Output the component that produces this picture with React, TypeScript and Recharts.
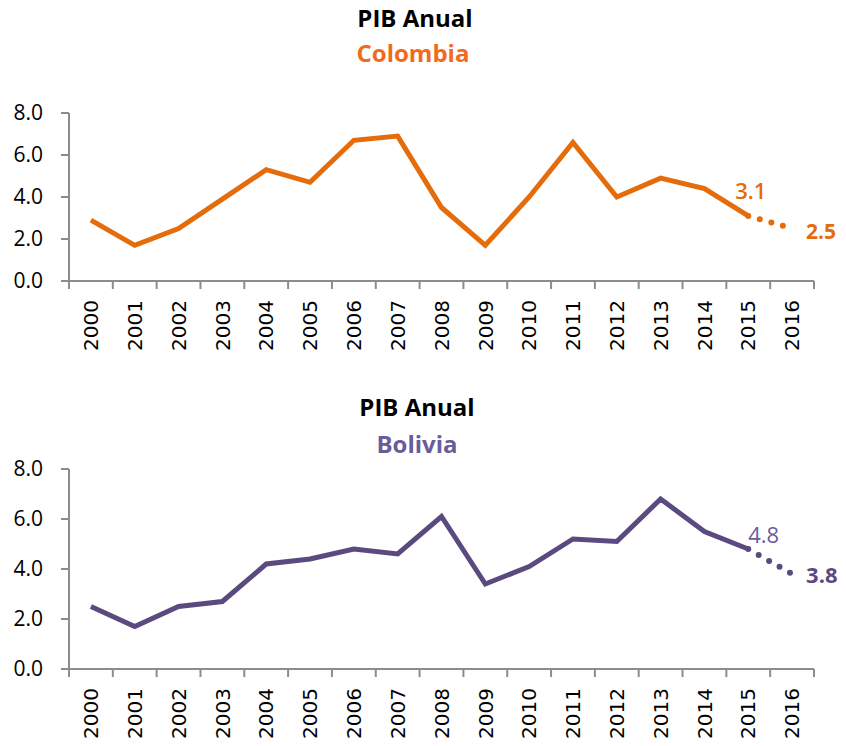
import React from "react";
import { LineChart, Line, XAxis, YAxis } from "recharts";

// Años y valores del PIB (variación %)
const years = ["2000", "2001", "2002", "2003", "2004", "2005", "2006", "2007", "2008", "2009", "2010", "2011", "2012", "2013", "2014", "2015", "2016"];
const colombia = [2.9, 1.7, 2.5, 3.9, 5.3, 4.7, 6.7, 6.9, 3.5, 1.7, 4.0, 6.6, 4.0, 4.9, 4.4, 3.1, null];
const colombiaProj = [null, null, null, null, null, null, null, null, null, null, null, null, null, null, null, 3.1, 2.5];
const bolivia = [2.5, 1.7, 2.5, 2.7, 4.2, 4.4, 4.8, 4.6, 6.1, 3.4, 4.1, 5.2, 5.1, 6.8, 5.5, 4.8, null];
const boliviaProj = [null, null, null, null, null, null, null, null, null, null, null, null, null, null, null, 4.8, 3.8];
const yTicks = [0, 2, 4, 6, 8];

const W = 846;
const AXIS_GRAY = "#8c8c8c";
const LEFT = 69;
const RIGHT = 32;
const BAND = (W - LEFT - RIGHT) / years.length;
const TICK = 8;
const TICK_GAP = 11;

const buildRows = (actual: (number | null)[], proj: (number | null)[]) =>
  years.map((year, i) => ({ year, actual: actual[i], proj: proj[i] }));

// tick del eje X: marcas entre categorías (estilo Excel) y etiqueta rotada
const YearTick = (props: any) => {
  const { x, y, payload, index } = props;
  const axisY = y - TICK - TICK_GAP;
  const last = index === years.length - 1;
  return (
    <g>
      <line x1={x - BAND / 2} x2={x - BAND / 2} y1={axisY} y2={axisY + TICK} stroke={AXIS_GRAY} strokeWidth={2} />
      {last && <line x1={x + BAND / 2} x2={x + BAND / 2} y1={axisY} y2={axisY + TICK} stroke={AXIS_GRAY} strokeWidth={2} />}
      <text
        x={x}
        y={y}
        transform={`rotate(-90 ${x} ${y})`}
        textAnchor="end"
        dy="0.36em"
        fontFamily="DejaVu Sans"
        fontSize={20}
        fill="#000"
      >
        {payload.value}
      </text>
    </g>
  );
};

const pointLabel = (at: number, dx: number, dy: number, color: string, weight: number, size: number) =>
  (props: any) => {
    const { x, y, index, value } = props;
    if (index !== at || value == null) return null;
    return (
      <text x={x + dx} y={y + dy} fill={color} fontFamily="Open Sans" fontWeight={weight} fontSize={size}>
        {Number(value).toFixed(1)}
      </text>
    );
  };

interface PibChartProps {
  top: number;
  height: number;
  marginTop: number;
  axisHeight: number;
  rows: any[];
  lineColor: string;
  actualLabel: (p: any) => any;
  projLabel: (p: any) => any;
}

const PibChart: React.FC<PibChartProps> = ({ top, height, marginTop, axisHeight, rows, lineColor, actualLabel, projLabel }) => (
  <div style={{ position: "absolute", left: 0, top }}>
    <LineChart width={W} height={height} data={rows} margin={{ top: marginTop, right: RIGHT, left: 0, bottom: 0 }}>
      <XAxis
        dataKey="year"
        interval={0}
        height={axisHeight}
        padding={{ left: BAND / 2, right: BAND / 2 }}
        axisLine={{ stroke: AXIS_GRAY, strokeWidth: 2 }}
        tickLine={false}
        tickSize={TICK}
        tickMargin={TICK_GAP}
        tick={<YearTick />}
      />
      <YAxis
        domain={[0, 8]}
        ticks={yTicks}
        width={LEFT}
        tickSize={TICK}
        tickMargin={18}
        tickFormatter={(v: number) => v.toFixed(1)}
        axisLine={{ stroke: AXIS_GRAY, strokeWidth: 2 }}
        tickLine={{ stroke: AXIS_GRAY, strokeWidth: 2 }}
        tick={{ fontFamily: "Open Sans", fontSize: 21, fill: "#000" }}
      />
      <Line
        dataKey="actual"
        stroke={lineColor}
        strokeWidth={5}
        dot={false}
        activeDot={false}
        isAnimationActive={false}
        label={actualLabel}
      />
      <Line
        dataKey="proj"
        stroke={lineColor}
        strokeWidth={6}
        strokeDasharray="0 12"
        strokeLinecap="round"
        dot={false}
        activeDot={false}
        isAnimationActive={false}
        label={projLabel}
      />
    </LineChart>
  </div>
);

const titleStyle = { fontFamily: "Open Sans", fontWeight: 700, fontSize: 24 } as const;

export default function App() {
  const orange = "#e46c0a";
  const purple = "#5b4a80";
  return (
    <div style={{ position: "absolute", left: 0, top: 0, width: W, height: 746, background: "#fff", overflow: "hidden" }}>
      <PibChart
        top={0}
        height={370}
        marginTop={113}
        axisHeight={89}
        rows={buildRows(colombia, colombiaProj)}
        lineColor={orange}
        actualLabel={pointLabel(15, -13, -17, orange, 600, 22)}
        projLabel={pointLabel(16, 14, 10, orange, 700, 21)}
      />
      <PibChart
        top={370}
        height={376}
        marginTop={99}
        axisHeight={77}
        rows={buildRows(bolivia, boliviaProj)}
        lineColor={purple}
        actualLabel={pointLabel(15, 0, -6, "#6a5c9a", 400, 22)}
        projLabel={pointLabel(16, 14, 9, purple, 700, 22)}
      />
      <svg width={W} height={746} style={{ position: "absolute", left: 0, top: 0, pointerEvents: "none" }}>
        <text x={415} y={27} textAnchor="middle" fill="#000" {...titleStyle}>PIB Anual</text>
        <text x={413} y={62} textAnchor="middle" fill="#f26b1d" {...titleStyle}>Colombia</text>
        <text x={417} y={416} textAnchor="middle" fill="#000" {...titleStyle}>PIB Anual</text>
        <text x={417} y={453} textAnchor="middle" fill="#6a5c9a" {...titleStyle}>Bolivia</text>
      </svg>
    </div>
  );
}
